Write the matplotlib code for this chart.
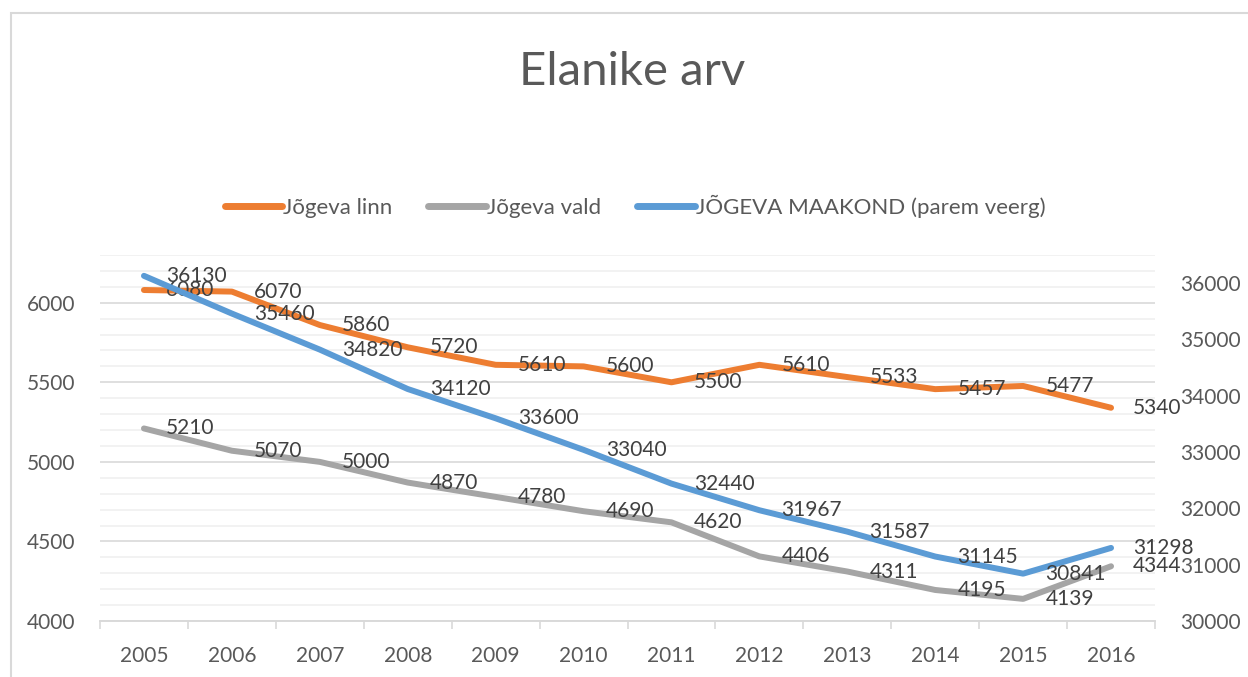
import matplotlib
matplotlib.use('Agg')
import matplotlib.pyplot as plt
from matplotlib.ticker import MultipleLocator, FixedLocator
from matplotlib.patches import Rectangle
import numpy as np

# data
years = ['2005', '2006', '2007', '2008', '2009', '2010', '2011', '2012', '2013', '2014', '2015', '2016']
linn = [6080, 6070, 5860, 5720, 5610, 5600, 5500, 5610, 5533, 5457, 5477, 5340]
vald = [5210, 5070, 5000, 4870, 4780, 4690, 4620, 4406, 4311, 4195, 4139, 4344]
maakond = [36130, 35460, 34820, 34120, 33600, 33040, 32440, 31967, 31587, 31145, 30841, 31298]

# styles
c_linn = '#ED7D31'
c_vald = '#A5A5A5'
c_maak = '#5B9BD5'
txt = '#595959'
plt.rcParams['font.family'] = ['Lato', 'DejaVu Sans']

fig = plt.figure(figsize=(12.48, 6.77), dpi=100)
ax = fig.add_axes([100/1248, 1-621/677, 1055/1248, 366/677])
x = np.arange(len(years))

ax.plot(x, linn, color=c_linn, lw=4.3, solid_capstyle='round', label='Jõgeva linn')
ax.plot(x, vald, color=c_vald, lw=4.3, solid_capstyle='round', label='Jõgeva vald')
ax2 = ax.twinx()
ax2.plot(x, maakond, color=c_maak, lw=4.3, solid_capstyle='round', label='JÕGEVA MAAKOND (parem veerg)')

## data labels right of points
def labels(axis, vals):
    for i, v in enumerate(vals):
        axis.annotate(str(v), (i, v), xytext=(16, 0), textcoords='offset points',
                      ha='left', va='center', fontsize=15, color='#404040')

labels(ax, linn)
labels(ax, vald)
labels(ax2, maakond)

# axes
ax.set_xlim(-0.5, 11.5)
ax.set_ylim(4000, 6300)
ax2.set_ylim(30000, 36500)
ax.yaxis.set_major_locator(FixedLocator([4000, 4500, 5000, 5500, 6000]))
ax.yaxis.set_minor_locator(MultipleLocator(100))
ax2.yaxis.set_major_locator(FixedLocator([30000, 31000, 32000, 33000, 34000, 35000, 36000]))
ax.grid(which='major', axis='y', color='#D9D9D9', lw=1.2)
ax.grid(which='minor', axis='y', color='#F0F0F0', lw=1.2)
ax.set_axisbelow(True)

ax.set_xticks(x)
ax.set_xticklabels(years)
ax.xaxis.set_minor_locator(FixedLocator(np.arange(-0.5, 12, 1)))
ax.tick_params(axis='x', which='major', length=0, pad=18, labelsize=15, labelcolor=txt)
ax.tick_params(axis='x', which='minor', length=6, color='#D9D9D9', width=1.2)
ax.tick_params(axis='y', which='both', length=0, pad=18, labelsize=15, labelcolor=txt)
ax2.tick_params(axis='y', length=0, pad=18, labelsize=15, labelcolor=txt)

for a in (ax, ax2):
    for s in ['top', 'left', 'right']:
        a.spines[s].set_visible(False)
    a.spines['bottom'].set_color('#D9D9D9')
    a.spines['bottom'].set_linewidth(1.2)

# title and legend
fig.text(632/1248, 1-72/677, 'Elanike arv', ha='center', va='center', fontsize=34, color=txt)
h1, l1 = ax.get_legend_handles_labels()
h2, l2 = ax2.get_legend_handles_labels()
leg = fig.legend(h1 + h2, l1 + l2, loc='center', bbox_to_anchor=(635/1248, 1-206/677), ncol=3,
                 frameon=False, fontsize=16, labelcolor=txt, handlelength=2.6,
                 handletextpad=0.05, columnspacing=1.6)
for line in leg.get_lines():
    line.set_linewidth(5)

# chart frame
fig.patches.append(Rectangle((11/1248, -0.1), 1.2, 1-13/677+0.1, transform=fig.transFigure,
                             fill=False, edgecolor='#D9D9D9', lw=1.5))

plt.savefig('out.png', dpi=100)
